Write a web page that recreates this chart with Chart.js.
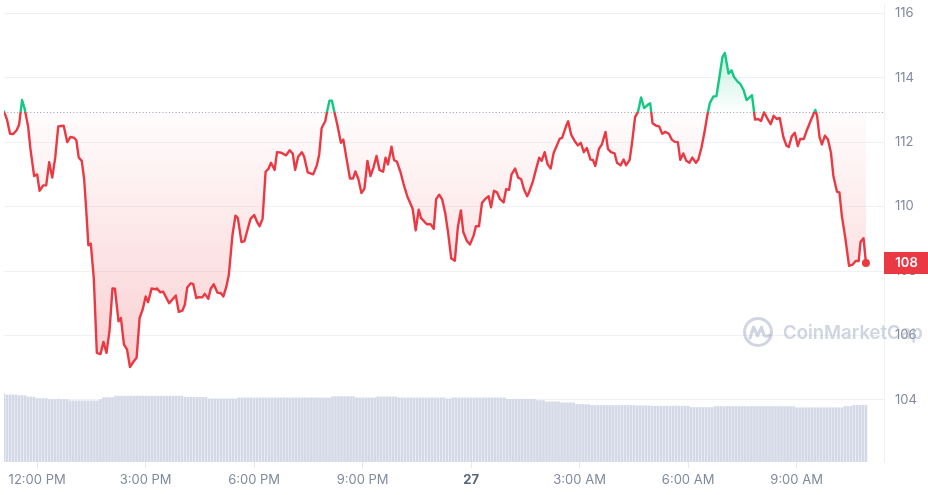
<!DOCTYPE html>
<html><head><meta charset="utf-8">
<script src="https://cdn.jsdelivr.net/npm/chart.js@4.4.1/dist/chart.umd.min.js"></script>
<style>html,body{margin:0;padding:0;background:#fff;overflow:hidden}#wrap{width:928px;height:495px;position:relative}</style>
</head><body><div id="wrap"><canvas id="c" width="928" height="495"></canvas></div>
<script>
// minutes since 11:05 AM (26th)
const times = [0,5,10,15,21,25,30,34,40,44,50,55,59,65,70,75,80,85,90,99,105,110,116,120,124,129,133,137,140,144,149,154,160,165,170,175,180,184,190,194,199,204,209,215,220,225,230,235,239,245,251,254,259,264,274,279,285,290,
296,300,304,310,314,319,323,329,333,339,343,348,354,360,364,369,373,379,384,388,394,399,403,409,415,420,424,429,434,439,443,449,453,460,468,474,479,483,488,494,498,504,513,519,523,527,533,536,540,544,548,553,559,563,568,574,579,583,588,
593,598,603,608,613,618,623,629,633,637,643,647,652,658,663,669,673,678,683,688,692,698,702,708,713,717,722,727,732,737,742,748,753,758,762,768,773,779,783,788,793,798,804,808,813,818,823,829,833,838,842,848,853,858,863,868,
871,877,882,888,892,897,902,907,912,918,922,926,932,936,941,947,952,957,962,967,973,977,981,987,992,998,1002,1007,1013,1017,1023,1028,1032,1038,1042,1047,1052,1057,1062,1068,1072,1076,1082,1087,1092,1097,1103,1108,1113,1118,1122,1127,1132,1137,1142,1148,1152,
1157,1162,1167,1171,1177,1182,1187,1192,1196,1202,1207,1211,1217,1222,1227,1232,1237,1241,1246,1251,1256,1261,1266,1272,1277,1282,1287,1293,1298,1302,1307,1312,1317,1321,1327,1332,1338,1346,1349,1353,1357,1362,1367,1372,1376,1382,1386,1390,1396,1402,1408,1413,1418,1421,1426,1430];

const prices = [112.95,112.70,112.26,112.25,112.37,112.54,113.31,113.06,112.49,111.77,110.95,111.00,110.49,110.66,110.66,111.38,110.90,111.52,112.49,112.51,112.00,112.16,112.14,112.06,111.52,111.42,110.85,109.72,108.80,108.85,107.77,105.46,105.42,105.80,105.46,106.13,107.46,107.45,106.44,106.54,105.72,105.57,105.02,105.19,105.31,106.54,106.80,107.21,107.03,107.46,107.43,107.46,107.34,107.36,107.00,107.11,107.24,106.73,
106.77,106.95,107.49,107.62,107.59,107.16,107.19,107.18,107.29,107.14,107.45,107.59,107.33,107.31,107.21,107.52,107.88,109.11,109.72,109.64,108.90,108.93,109.21,109.62,109.74,109.52,109.39,109.62,111.08,111.18,111.36,111.14,111.69,111.67,111.59,111.75,111.65,111.14,111.55,111.69,111.55,111.06,111.00,111.28,111.62,112.44,112.65,112.95,113.29,113.29,112.95,112.54,111.98,112.08,111.52,110.87,110.87,111.09,110.85,
110.42,110.56,111.42,110.95,111.21,111.57,111.14,111.08,111.52,111.31,111.86,111.45,111.39,111.06,110.70,110.32,110.15,109.93,109.26,109.90,109.64,109.52,109.45,109.45,109.31,110.23,110.37,110.22,109.80,109.16,108.39,108.32,109.36,109.88,109.21,108.93,108.82,109.09,109.39,109.39,110.11,110.23,110.32,109.98,110.49,110.44,110.23,110.13,110.54,110.52,111.00,111.18,110.90,110.85,110.52,110.32,
110.44,110.75,111.11,111.52,111.42,111.69,111.31,111.18,111.67,111.93,112.11,112.13,112.47,112.65,112.23,112.03,111.90,111.98,111.69,111.82,111.46,111.45,111.26,111.79,111.93,112.32,111.79,111.69,111.65,111.36,111.28,111.46,111.28,111.45,111.98,112.78,112.95,113.39,113.06,113.16,113.21,112.59,112.51,112.49,112.26,112.32,112.26,112.08,112.01,112.00,111.45,111.65,111.42,111.36,111.52,111.36,111.46,
111.82,112.29,112.85,113.21,113.42,113.43,114.03,114.65,114.77,114.13,114.23,114.03,113.88,113.80,113.62,113.31,113.39,113.46,112.70,112.72,112.66,112.93,112.75,112.56,112.82,112.72,112.75,112.16,111.90,111.85,112.18,112.29,111.88,112.10,112.10,112.37,112.65,113.00,112.82,112.16,111.93,112.20,112.08,111.67,110.95,110.46,110.44,109.72,109.00,108.16,108.20,108.31,108.31,108.90,109.02,108.25];

// one bar per 5-minute interval
const volumes = [6.87,6.77,6.77,6.77,6.77,6.70,6.70,6.70,6.55,6.55,
6.55,6.40,6.40,6.40,6.40,6.30,6.30,6.30,6.35,6.30,
6.30,6.30,6.17,6.17,6.17,6.17,6.17,6.17,6.17,6.17,
6.17,6.17,6.30,6.50,6.50,6.50,6.50,6.65,6.65,6.65,
6.65,6.65,6.65,6.65,6.65,6.65,6.65,6.65,6.65,6.65,
6.65,6.65,6.65,6.65,6.65,6.65,6.65,6.65,6.65,6.65,
6.53,6.53,6.53,6.53,6.53,6.53,6.53,6.53,6.37,6.37,
6.37,6.37,6.37,6.37,6.37,6.37,6.37,6.37,6.47,6.47,
6.47,6.47,6.47,6.47,6.47,6.47,6.47,6.47,6.47,6.47,
6.47,6.47,6.47,6.47,6.47,6.47,6.47,6.47,6.47,6.47,
6.47,6.47,6.47,6.47,6.47,6.47,6.47,6.47,6.47,6.60,
6.60,6.60,6.60,6.60,6.60,6.60,6.60,6.47,6.47,6.47,
6.47,6.47,6.47,6.47,6.57,6.57,6.57,6.57,6.57,6.57,
6.57,6.47,6.47,6.47,6.47,6.47,6.47,6.47,6.47,6.47,
6.47,6.47,6.47,6.47,6.47,6.47,6.47,6.37,6.37,6.47,
6.47,6.47,6.47,6.47,6.47,6.47,6.47,6.47,6.47,6.47,
6.47,6.47,6.47,6.47,6.47,6.47,6.47,6.33,6.33,6.33,
6.33,6.33,6.33,6.33,6.33,6.33,6.33,6.20,6.20,6.20,
6.07,6.07,6.07,6.07,6.07,5.97,5.97,5.97,5.97,5.97,
5.80,5.80,5.80,5.80,5.80,5.70,5.70,5.70,5.70,5.70,
5.70,5.70,5.70,5.70,5.70,5.70,5.70,5.70,5.70,5.70,
5.67,5.67,5.67,5.67,5.67,5.63,5.63,5.63,5.63,5.63,
5.63,5.63,5.63,5.63,5.63,5.63,5.63,5.63,5.50,5.50,
5.50,5.50,5.50,5.50,5.50,5.50,5.60,5.60,5.60,5.60,
5.60,5.60,5.60,5.60,5.60,5.60,5.60,5.60,5.60,5.60,
5.60,5.60,5.60,5.60,5.60,5.60,5.60,5.60,5.60,5.60,
5.60,5.60,5.60,5.47,5.47,5.47,5.47,5.47,5.47,5.47,
5.47,5.47,5.47,5.47,5.47,5.47,5.47,5.47,5.47,5.60,
5.60,5.60,5.73,5.73,5.73,5.73,5.73];
const volumeStep = 5;
const openPrice = 112.95;
const xTickMinutes = [55,235,415,595,775,955,1135,1315];
const xTickLabels = ['12:00 PM','3:00 PM','6:00 PM','9:00 PM','27','3:00 AM','6:00 AM','9:00 AM'];
const yTicks = [104,106,108,110,112,114,116];

const RED = '#ea3943', GREEN = '#16c784';
Chart.defaults.font.family = 'Inter, "Noto Sans", sans-serif';

const priceData = times.map((t, i) => ({x: t, y: prices[i]}));
const volData = volumes.map((v, i) => ({x: i * volumeStep, y: v}));

function lineGrad(c) {
  const ch = c.chart, a = ch.chartArea;
  if (!a) return RED;
  const b = ch.scales.y.getPixelForValue(openPrice);
  const f = Math.min(1, Math.max(0, (b - a.top) / (a.bottom - a.top)));
  const g = ch.ctx.createLinearGradient(0, a.top, 0, a.bottom);
  g.addColorStop(0, GREEN); g.addColorStop(f, GREEN);
  g.addColorStop(f, RED); g.addColorStop(1, RED);
  return g;
}
function fillGrad(c) {
  const ch = c.chart, a = ch.chartArea;
  if (!a) return 'rgba(234,57,67,0.1)';
  const y = ch.scales.y;
  const top = y.getPixelForValue(Math.max(...prices));
  const bot = y.getPixelForValue(Math.min(...prices));
  const b = y.getPixelForValue(openPrice);
  const f = (b - top) / (bot - top);
  const g = ch.ctx.createLinearGradient(0, top, 0, bot);
  g.addColorStop(0, 'rgba(22,199,132,0.25)');
  g.addColorStop(f, 'rgba(22,199,132,0.01)');
  g.addColorStop(f, 'rgba(234,57,67,0.01)');
  g.addColorStop(1, 'rgba(234,57,67,0.24)');
  return g;
}

const overlay = {
  id: 'overlay',
  beforeDatasetsDraw(chart) {
    const {ctx, chartArea: a} = chart;
    const py = Math.round(chart.scales.y.getPixelForValue(openPrice)) + 0.5;
    ctx.save();
    ctx.strokeStyle = '#9aa0ab'; ctx.lineWidth = 1; ctx.setLineDash([1, 2.3]);
    ctx.beginPath(); ctx.moveTo(a.left, py); ctx.lineTo(a.right, py); ctx.stroke();
    ctx.restore();
  },
  afterDraw(chart) {
    const {ctx, chartArea: a} = chart;
    const last = prices[prices.length - 1];
    const py = chart.scales.y.getPixelForValue(last);
    ctx.save();
    // watermark
    const wc = 'rgba(160,172,196,0.5)';
    ctx.strokeStyle = wc; ctx.lineWidth = 3; ctx.lineJoin = 'round'; ctx.lineCap = 'round';
    const cx = 758, cy = 332, r = 13.5;
    ctx.beginPath(); ctx.arc(cx, cy, r, 0, Math.PI * 2); ctx.stroke();
    ctx.beginPath();
    ctx.moveTo(cx - 8, cy + 6); ctx.lineTo(cx - 4.5, cy - 5); ctx.lineTo(cx - 0.5, cy + 4);
    ctx.lineTo(cx + 3.5, cy - 5); ctx.lineTo(cx + 5.5, cy + 2); ctx.quadraticCurveTo(cx + 7.5, cy + 6, cx + 12, cy + 3);
    ctx.stroke();
    ctx.fillStyle = wc; ctx.font = '600 18.5px Inter'; ctx.textAlign = 'left'; ctx.textBaseline = 'middle';
    ctx.fillText('CoinMarketCap', 783, cy + 1);
    // price tag
    ctx.fillStyle = RED; ctx.fillRect(a.right, Math.round(py - 11), 44, 22);
    ctx.fillStyle = '#fff'; ctx.font = '600 13px Inter'; ctx.textAlign = 'center'; ctx.textBaseline = 'middle';
    ctx.fillText(String(Math.round(last)), a.right + 22.5, Math.round(py) + 0.5);
    ctx.restore();
  }
};

new Chart(document.getElementById('c'), {
  type: 'line',
  data: {
    datasets: [
      {
        type: 'line', data: priceData, xAxisID: 'x', yAxisID: 'y', order: 1,
        borderWidth: 2.4, tension: 0, borderColor: lineGrad, backgroundColor: fillGrad,
        fill: {target: {value: openPrice}},
        pointRadius: c => c.dataIndex === prices.length - 1 ? 4 : 0,
        pointHoverRadius: 0, pointBackgroundColor: RED, pointBorderWidth: 0,
        borderJoinStyle: 'round', borderCapStyle: 'round'
      },
      {
        type: 'bar', data: volData, xAxisID: 'x', yAxisID: 'yv', order: 2,
        backgroundColor: '#d3d9e6', barThickness: 2, grouped: false
      }
    ]
  },
  options: {
    responsive: false, animation: false, devicePixelRatio: 1,
    layout: {padding: 0},
    plugins: {legend: {display: false}, tooltip: {enabled: false}},
    scales: {
      x: {
        type: 'linear', min: 0, max: 1460, offset: false,
        afterBuildTicks: s => { s.ticks = xTickMinutes.map(v => ({value: v})); },
        ticks: {
          autoSkip: false, maxRotation: 0, padding: 4,
          color: c => (c.tick && c.tick.value === 775) ? '#58667e' : '#808a9d',
          font: c => (c.tick && c.tick.value === 775) ? {size: 13, weight: 'bold'} : {size: 13},
          callback: v => xTickLabels[xTickMinutes.indexOf(v)]
        },
        grid: {drawOnChartArea: false, offset: false, tickLength: 6, color: '#e6e9ef'},
        border: {display: false},
        afterFit: s => { s.height = 33; s.paddingLeft = 0; s.paddingRight = 0; }
      },
      y: {
        position: 'right', min: 102.07, max: 116.29,
        afterBuildTicks: s => { s.ticks = yTicks.map(v => ({value: v})); },
        ticks: {padding: 11, color: '#808a9d', font: {size: 13}},
        grid: {color: '#eff2f5', drawTicks: false},
        border: {display: true, color: '#eff2f5'},
        afterFit: s => { s.width = 44; s.paddingTop = 0; s.paddingBottom = 0; }
      },
      yv: {display: false, min: 0, max: 46.2}
    }
  },
  plugins: [overlay]
});
</script>
</body></html>
